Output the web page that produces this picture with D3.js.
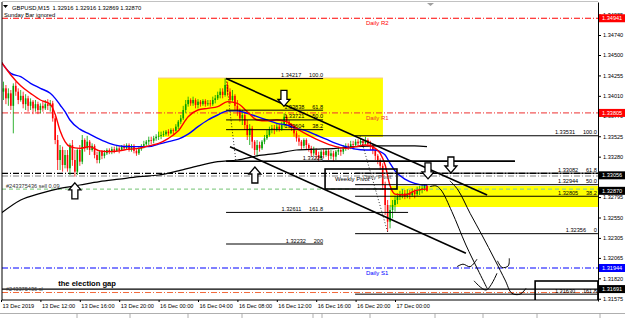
<!DOCTYPE html>
<html>
<head>
<meta charset="utf-8">
<script src="https://cdn.jsdelivr.net/npm/d3@7"></script>
<style>
body { margin: 0; background: #fff; }
svg { display: block; }
text { font-family: "Liberation Sans", Arial, sans-serif; }
</style>
</head>
<body>
<script>
// GBPUSD M15, one row per bar: [open, high, low, close]
const candles = [
[1.3422,1.3427,1.3401,1.3406],[1.3406,1.3418,1.3396,1.3410],[1.3410,1.3414,1.3391,1.3398],[1.3398,1.3410,1.3389,1.3404],[1.3404,1.3408,1.3384,1.3389],[1.3389,1.3416,1.3356,1.3413],
[1.3413,1.3418,1.3401,1.3406],[1.3406,1.3410,1.3391,1.3396],[1.3396,1.3408,1.3394,1.3401],[1.3401,1.3406,1.3386,1.3391],[1.3391,1.3403,1.3384,1.3398],[1.3398,1.3401,1.3382,1.3389],
[1.3389,1.3398,1.3384,1.3394],[1.3394,1.3396,1.3379,1.3386],[1.3386,1.3396,1.3382,1.3391],[1.3391,1.3394,1.3379,1.3384],[1.3384,1.3392,1.3380,1.3389],[1.3389,1.3395,1.3382,1.3386],
[1.3386,1.3396,1.3384,1.3391],[1.3391,1.3397,1.3384,1.3389],[1.3389,1.3396,1.3382,1.3392],[1.3392,1.3395,1.3370,1.3374],[1.3374,1.3377,1.3343,1.3348],[1.3348,1.3354,1.3312,1.3324],
[1.3324,1.3342,1.3312,1.3336],[1.3336,1.3340,1.3310,1.3318],[1.3318,1.3336,1.3314,1.3330],[1.3330,1.3336,1.3310,1.3314],[1.3314,1.3344,1.3306,1.3342],[1.3342,1.3348,1.3317,1.3324],
[1.3324,1.3336,1.3304,1.3310],[1.3310,1.3338,1.3306,1.3336],[1.3336,1.3342,1.3317,1.3322],[1.3322,1.3354,1.3319,1.3348],[1.3348,1.3350,1.3334,1.3338],[1.3338,1.3353,1.3336,1.3346],
[1.3346,1.3348,1.3330,1.3336],[1.3336,1.3344,1.3334,1.3341],[1.3341,1.3343,1.3326,1.3330],[1.3330,1.3334,1.3320,1.3324],[1.3324,1.3336,1.3320,1.3334],[1.3334,1.3336,1.3325,1.3329],
[1.3329,1.3336,1.3326,1.3332],[1.3332,1.3338,1.3330,1.3336],[1.3336,1.3338,1.3331,1.3334],[1.3334,1.3340,1.3331,1.3337],[1.3337,1.3340,1.3332,1.3335],[1.3335,1.3341,1.3334,1.3338],
[1.3338,1.3341,1.3332,1.3336],[1.3336,1.3342,1.3335,1.3340],[1.3340,1.3343,1.3336,1.3338],[1.3338,1.3344,1.3336,1.3342],[1.3342,1.3344,1.3334,1.3336],[1.3336,1.3343,1.3334,1.3341],
[1.3341,1.3343,1.3332,1.3335],[1.3335,1.3337,1.3329,1.3332],[1.3332,1.3340,1.3330,1.3337],[1.3337,1.3343,1.3335,1.3341],[1.3341,1.3347,1.3338,1.3343],[1.3343,1.3348,1.3341,1.3346],
[1.3346,1.3352,1.3342,1.3348],[1.3348,1.3352,1.3343,1.3347],[1.3347,1.3353,1.3344,1.3350],[1.3350,1.3355,1.3347,1.3352],[1.3352,1.3358,1.3348,1.3353],[1.3353,1.3358,1.3349,1.3354],
[1.3354,1.3359,1.3352,1.3355],[1.3355,1.3360,1.3353,1.3358],[1.3358,1.3361,1.3353,1.3356],[1.3356,1.3362,1.3355,1.3360],[1.3360,1.3362,1.3355,1.3359],[1.3359,1.3367,1.3358,1.3364],
[1.3364,1.3372,1.3361,1.3370],[1.3370,1.3378,1.3367,1.3374],[1.3374,1.3389,1.3372,1.3384],[1.3384,1.3396,1.3380,1.3391],[1.3391,1.3400,1.3388,1.3396],[1.3396,1.3398,1.3389,1.3392],
[1.3392,1.3400,1.3389,1.3396],[1.3396,1.3398,1.3386,1.3390],[1.3390,1.3397,1.3386,1.3394],[1.3394,1.3396,1.3388,1.3391],[1.3391,1.3397,1.3389,1.3395],[1.3395,1.3397,1.3388,1.3391],
[1.3391,1.3396,1.3389,1.3392],[1.3392,1.3396,1.3388,1.3391],[1.3391,1.3400,1.3389,1.3396],[1.3396,1.3402,1.3392,1.3398],[1.3398,1.3406,1.3396,1.3402],[1.3402,1.3410,1.3398,1.3406],
[1.3406,1.3410,1.3398,1.3402],[1.3402,1.3422,1.3400,1.3414],[1.3414,1.3418,1.3401,1.3406],[1.3406,1.3410,1.3391,1.3396],[1.3396,1.3408,1.3394,1.3401],[1.3401,1.3403,1.3384,1.3389],
[1.3389,1.3396,1.3377,1.3384],[1.3384,1.3386,1.3370,1.3374],[1.3374,1.3384,1.3366,1.3378],[1.3378,1.3382,1.3360,1.3366],[1.3366,1.3372,1.3348,1.3354],[1.3354,1.3367,1.3342,1.3362],
[1.3362,1.3365,1.3338,1.3346],[1.3346,1.3348,1.3330,1.3336],[1.3336,1.3348,1.3328,1.3342],[1.3342,1.3346,1.3334,1.3338],[1.3338,1.3348,1.3336,1.3346],[1.3346,1.3354,1.3343,1.3350],
[1.3350,1.3360,1.3348,1.3354],[1.3354,1.3364,1.3352,1.3360],[1.3360,1.3366,1.3356,1.3362],[1.3362,1.3366,1.3355,1.3360],[1.3360,1.3367,1.3358,1.3364],[1.3364,1.3367,1.3358,1.3361],
[1.3361,1.3370,1.3359,1.3366],[1.3366,1.3380,1.3364,1.3376],[1.3376,1.3378,1.3365,1.3370],[1.3370,1.3372,1.3362,1.3366],[1.3366,1.3368,1.3359,1.3362],[1.3362,1.3365,1.3352,1.3356],
[1.3356,1.3359,1.3346,1.3350],[1.3350,1.3354,1.3341,1.3346],[1.3346,1.3348,1.3336,1.3341],[1.3341,1.3350,1.3338,1.3348],[1.3348,1.3350,1.3337,1.3342],[1.3342,1.3344,1.3334,1.3338],
[1.3338,1.3341,1.3328,1.3332],[1.3332,1.3340,1.3329,1.3336],[1.3336,1.3338,1.3325,1.3330],[1.3330,1.3334,1.3322,1.3326],[1.3326,1.3336,1.3324,1.3334],[1.3334,1.3337,1.3326,1.3330],
[1.3330,1.3338,1.3328,1.3335],[1.3335,1.3337,1.3324,1.3329],[1.3329,1.3336,1.3325,1.3332],[1.3332,1.3335,1.3323,1.3328],[1.3328,1.3336,1.3324,1.3334],[1.3334,1.3340,1.3330,1.3336],
[1.3336,1.3338,1.3329,1.3334],[1.3334,1.3342,1.3331,1.3338],[1.3338,1.3344,1.3335,1.3341],[1.3341,1.3344,1.3336,1.3340],[1.3340,1.3347,1.3337,1.3343],[1.3343,1.3347,1.3337,1.3342],
[1.3342,1.3349,1.3340,1.3346],[1.3346,1.3349,1.3341,1.3344],[1.3344,1.3350,1.3342,1.3347],[1.3347,1.3349,1.3341,1.3344],[1.3344,1.3352,1.3342,1.3348],[1.3348,1.3350,1.3340,1.3343],
[1.3343,1.3347,1.3336,1.3341],[1.3341,1.3343,1.3331,1.3336],[1.3336,1.3338,1.3324,1.3329],[1.3329,1.3331,1.3319,1.3324],[1.3324,1.3326,1.3312,1.3317],[1.3317,1.3320,1.3288,1.3294],
[1.3294,1.3298,1.3258,1.3270],[1.3270,1.3276,1.3238,1.3250],[1.3250,1.3270,1.3242,1.3264],[1.3264,1.3276,1.3254,1.3270],[1.3270,1.3281,1.3262,1.3276],[1.3276,1.3284,1.3271,1.3280],
[1.3280,1.3287,1.3276,1.3282],[1.3282,1.3289,1.3278,1.3284],[1.3284,1.3288,1.3277,1.3281],[1.3281,1.3289,1.3278,1.3284],[1.3284,1.3288,1.3277,1.3282],[1.3282,1.3290,1.3280,1.3286],
[1.3286,1.3289,1.3278,1.3283],[1.3283,1.3292,1.3281,1.3287],[1.3287,1.3293,1.3282,1.3288],[1.3288,1.3294,1.3284,1.3290],[1.3290,1.3295,1.3287,1.3293],[1.3293,1.3294,1.3286,1.3287]
];

// moving averages (bar index -> price)
const maBars = [0,4,8,12,16,20,22,24,26,28,32,36,40,44,48,52,56,60,64,68,72,76,80,84,88,92,96,100,104,108,112,116,120,124,128,132,136,140,144,148,152,154,156,158,160,164,168,172,173];
const fastMA = [1.3442,1.3426,1.3413,1.3404,1.3396,1.3391,1.3379,1.3359,1.3346,1.3340,1.3338,1.3340,1.3335,1.3334,1.3335,1.3337,1.3338,1.3341,1.3344,1.3350,1.3359,1.3376,1.3384,1.3386,1.3388,1.3394,1.3392,1.3382,1.3372,1.3371,1.3372,1.3370,1.3362,1.3355,1.3349,1.3344,1.3340,1.3338,1.3340,1.3342,1.3338,1.3332,1.3318,1.3293,1.3283,1.3282,1.3287,1.3289,1.3289];
const slowMA = [1.3442,1.3428,1.3424,1.3416,1.3410,1.3404,1.3398,1.3390,1.3382,1.3372,1.3361,1.3355,1.3349,1.3344,1.3341,1.3340,1.3340,1.3340,1.3343,1.3346,1.3349,1.3355,1.3364,1.3372,1.3378,1.3383,1.3383,1.3380,1.3376,1.3372,1.3368,1.3366,1.3362,1.3359,1.3354,1.3349,1.3344,1.3340,1.3337,1.3336,1.3336,1.3334,1.3330,1.3320,1.3311,1.3301,1.3296,1.3294,1.3294];
const ma200Bars = [0,8,16,24,32,40,48,56,64,72,80,88,96,104,112,120,128,136,144,152,160,168,173];
const ma200 = [1.3260,1.3276,1.3284,1.3290,1.3294,1.3298,1.3301,1.3304,1.3306,1.3311,1.3317,1.3322,1.3324,1.3329,1.3332,1.3336,1.3337,1.3338,1.3340,1.3341,1.3341,1.3341,1.3340];

// axes
const timeTickBars = [0,16,32,48,64,80,96,112,128,144,160];
const timeTickLabels = ["13 Dec 2019","13 Dec 12:00","13 Dec 16:00","13 Dec 20:00","16 Dec 00:00","16 Dec 04:00","16 Dec 08:00","16 Dec 12:00","16 Dec 16:00","16 Dec 20:00","17 Dec 00:00"];
const priceTicks = [1.34985,1.34740,1.34500,1.34255,1.34010,1.33770,1.33525,1.33280,1.33035,1.32795,1.32550,1.32305,1.32065,1.31820,1.31575];
const badgePrices = [1.34941,1.33805,1.33056,1.32870,1.31944,1.31691];

// pivots and order lines
const pivotNames = ["Daily R2","Daily R1","Daily S1"];
const pivotPrices = [1.34941,1.33805,1.31944];
const weeklyPivot = 1.33080, dailyPivot = 1.33048;
const sellPrice = 1.32890, stopPrice = 1.31650;
const gapLine = 1.31691;

// zones [fromBar, toBar, top, bottom]
const zones = [[63.8,155.1,1.34224,1.33516],[158,242.4,1.32928,1.32676]];

// fibonacci 1 (16 Dec high to low)
const fib1Pct = ["100.0","61.8","50.0","38.2","","161.8","200"];
const fib1Price = [1.34217,1.33838,1.33721,1.33604,1.33225,1.32611,1.32232];
const fib1Start = 91.4, fib1LabelEnd = 130.8;
const fib1End = [130.8,130.8,130.8,130.8,208.7,165.3,130.8];
const fib1Anchor = [[91.4,1.34217],[95.4,1.33225]];
// fibonacci 2
const fib2Pct = ["100.0","61.8","50.0","38.2","0","161.8"];
const fib2Price = [1.33531,1.33082,1.32944,1.32805,1.32356,1.31630];
const fib2Start = 143.8, fib2End = 242.4;
const fib2Anchor = [[145.8,1.33531],[157.2,1.32356]];

// trend lines [[bar, price], [bar, price]]
const trendLines = [
  [[91.4,1.34217],[197.4,1.3282]],
  [[93,1.3340],[188.8,1.3212]],
  [[130.5,1.33225],[208.7,1.33225]]
];
// hand-drawn projections
const paths = [
  [[174.2,1.3292],[176.6,1.3293],[178.7,1.3288],[183.1,1.3262],[188.8,1.3222],[193.7,1.3192],[197.4,1.3170]],
  [[192.1,1.3179],[197,1.3168],[201.4,1.3188]],
  [[182.3,1.3299],[185.6,1.3288],[190.5,1.3260],[195.3,1.3234],[200.6,1.3204],[204.7,1.3180],[207.5,1.3164],[210.8,1.3163],[213.2,1.3170]],
  [[185.2,1.3196],[187.6,1.3199],[190.5,1.3196],[193.3,1.3205]],
  [[201.6,1.3203],[203.5,1.3195],[206,1.3197],[206.4,1.3206]]
];
const upArrows = [[30,1.3287],[103.1,1.3306]];
const downArrows = [[114.9,1.3398],[173.4,1.3311],[182.7,1.3318]];
const pivotBox = [131.6,160.8,1.33132,1.32892];
const gapBox = [216.9,242.4,1.31788,1.31548];

const W = 625, H = 318;
const svg = d3.select("body").append("svg").attr("width", W).attr("height", H);
const x = d3.scaleLinear().domain([0, 240]).range([1, 592]);
const y = d3.scaleLinear().domain([1.31548, 1.35136]).range([301, 2]);
const right = 598, bottom = 300;

svg.append("defs").append("clipPath").attr("id", "plot")
  .append("rect").attr("x", 2).attr("y", 2).attr("width", right - 2).attr("height", bottom - 2);
const g = svg.append("g").attr("clip-path", "url(#plot)");

// yellow zones
g.selectAll("rect.zone").data(zones).join("rect").attr("class", "zone")
  .attr("x", d => x(d[0])).attr("width", d => x(d[1]) - x(d[0]))
  .attr("y", d => y(d[2])).attr("height", d => y(d[3]) - y(d[2]))
  .attr("fill", "#ffff00");
g.append("line").attr("x1", x(zones[0][0])).attr("x2", x(zones[0][1]))
  .attr("y1", y(zones[0][2])).attr("y2", y(zones[0][2])).attr("stroke", "#f8c88a").attr("stroke-width", 1);

const dashDot = "6,2,1,2";
const pivotColor = { "Daily R2": "#ff0000", "Daily R1": "#ee3030", "Daily S1": "#0000ff" };
g.selectAll("line.pivot").data(pivotPrices).join("line").attr("class", "pivot")
  .attr("x1", 2).attr("x2", right).attr("y1", d => y(d)).attr("y2", d => y(d))
  .attr("stroke", (d, i) => pivotColor[pivotNames[i]]).attr("stroke-width", 1).attr("stroke-dasharray", dashDot);
g.append("line").attr("x1", 2).attr("x2", right).attr("y1", y(weeklyPivot)).attr("y2", y(weeklyPivot))
  .attr("stroke", "#000").attr("stroke-width", 1.2).attr("stroke-dasharray", dashDot);
g.append("line").attr("x1", 2).attr("x2", right).attr("y1", y(dailyPivot)).attr("y2", y(dailyPivot))
  .attr("stroke", "#808080").attr("stroke-width", 1).attr("stroke-dasharray", dashDot);
g.append("line").attr("x1", 2).attr("x2", right).attr("y1", y(sellPrice)).attr("y2", y(sellPrice))
  .attr("stroke", "#8fd08f").attr("stroke-width", 1.2).attr("stroke-dasharray", "4,3");
g.append("line").attr("x1", 2).attr("x2", right).attr("y1", y(stopPrice)).attr("y2", y(stopPrice))
  .attr("stroke", "#f26a3c").attr("stroke-width", 1).attr("stroke-dasharray", dashDot);

// candles
const col = d => d[3] >= d[0] ? "#00a000" : "#ff0000";
g.selectAll("line.wick").data(candles).join("line").attr("class", "wick")
  .attr("x1", (d, i) => x(i)).attr("x2", (d, i) => x(i))
  .attr("y1", d => y(d[1])).attr("y2", d => y(d[2]))
  .attr("stroke", col).attr("stroke-width", 0.8);
g.selectAll("rect.body").data(candles).join("rect").attr("class", "body")
  .attr("x", (d, i) => x(i) - 0.8).attr("width", 1.6)
  .attr("y", d => y(Math.max(d[0], d[3])))
  .attr("height", d => Math.max(0.8, Math.abs(y(d[0]) - y(d[3]))))
  .attr("fill", col);

// moving averages
const maLine = bars => d3.line().x((d, i) => x(bars[i])).y(d => y(d)).curve(d3.curveMonotoneX);
g.append("path").datum(ma200).attr("d", maLine(ma200Bars)).attr("fill", "none").attr("stroke", "#000").attr("stroke-width", 1.2);
g.append("path").datum(slowMA).attr("d", maLine(maBars)).attr("fill", "none").attr("stroke", "#0000ff").attr("stroke-width", 1.4);
g.append("path").datum(fastMA).attr("d", maLine(maBars)).attr("fill", "none").attr("stroke", "#ff0000").attr("stroke-width", 1.4);

// fibonacci levels
const fs = 5.6;
function fibLabel(px, py, price, pct) {
  g.append("text").attr("x", px).attr("y", py - 1.5).attr("text-anchor", "end")
    .attr("font-size", fs).attr("fill", "#000")
    .text(price.toFixed(5) + (pct ? "\u00a0\u00a0\u00a0\u00a0\u00a0" + pct : ""));
}
fib1Price.forEach((p, i) => {
  g.append("line").attr("x1", x(fib1Start)).attr("x2", x(fib1End[i])).attr("y1", y(p)).attr("y2", y(p))
    .attr("stroke", "#000").attr("stroke-width", i === 4 ? 1.6 : 1);
  fibLabel(x(fib1LabelEnd), y(p), p, fib1Pct[i]);
});
fib2Price.forEach((p, i) => {
  g.append("line").attr("x1", x(fib2Start)).attr("x2", x(fib2End)).attr("y1", y(p)).attr("y2", y(p))
    .attr("stroke", "#000").attr("stroke-width", 1);
  fibLabel(x(fib2End) - 1, y(p), p, fib2Pct[i]);
});
[fib1Anchor, fib2Anchor].forEach(a => {
  g.append("line").attr("x1", x(a[0][0])).attr("y1", y(a[0][1])).attr("x2", x(a[1][0])).attr("y2", y(a[1][1]))
    .attr("stroke", "#000").attr("stroke-width", 0.8).attr("stroke-dasharray", "1,2");
});

// trend lines and projections
g.selectAll("line.trend").data(trendLines).join("line").attr("class", "trend")
  .attr("x1", d => x(d[0][0])).attr("y1", d => y(d[0][1]))
  .attr("x2", d => x(d[1][0])).attr("y2", d => y(d[1][1]))
  .attr("stroke", "#000").attr("stroke-width", 1.6);
const pathLine = d3.line().x(d => x(d[0])).y(d => y(d[1])).curve(d3.curveCatmullRom);
g.selectAll("path.proj").data(paths).join("path").attr("class", "proj")
  .attr("d", pathLine).attr("fill", "none").attr("stroke", "#000").attr("stroke-width", 1);

// boxes
[pivotBox, gapBox].forEach(b => {
  g.append("rect").attr("x", x(b[0])).attr("width", x(b[1]) - x(b[0]))
    .attr("y", y(b[2])).attr("height", y(b[3]) - y(b[2]))
    .attr("fill", "none").attr("stroke", "#000").attr("stroke-width", 1.6);
});
g.append("line").attr("x1", 2).attr("x2", right).attr("y1", y(gapLine)).attr("y2", y(gapLine))
  .attr("stroke", "#000").attr("stroke-width", 1.3);

// arrows
function arrow(d, up) {
  const s = up ? 1 : -1;
  const pts = [[0, -8], [6, -1], [3, -1], [3, 8], [-3, 8], [-3, -1], [-6, -1]]
    .map(p => [x(d[0]) + p[0], y(d[1]) + s * p[1]]);
  g.append("path").attr("d", "M" + pts.join("L") + "Z")
    .attr("fill", "#fff").attr("stroke", "#000").attr("stroke-width", 1.3);
}
upArrows.forEach(d => arrow(d, true));
downArrows.forEach(d => arrow(d, false));

// labels inside the chart
pivotNames.forEach((n, i) => {
  g.append("text").attr("x", x(148.2)).attr("y", y(pivotPrices[i]) + 7)
    .attr("font-size", 6).attr("fill", pivotColor[n]).text(n);
});
g.append("text").attr("x", x(135.6)).attr("y", y(weeklyPivot) + 8).attr("font-size", 6).attr("fill", "#000").text("Weekly Pivot");
g.append("text").attr("x", x(147)).attr("y", y(dailyPivot) + 3).attr("font-size", 6).attr("fill", "#555").text("Daily Pivot");
g.append("text").attr("x", 6).attr("y", y(sellPrice) - 1.5).attr("font-size", fs).attr("fill", "#333").text("#243375436 sell 0.09");
g.append("text").attr("x", 6).attr("y", y(stopPrice) - 1.5).attr("font-size", fs).attr("fill", "#333").text("#243375436 sl");
g.append("text").attr("x", x(23.2)).attr("y", y(gapLine) - 3).attr("font-size", 7.6).attr("font-weight", "bold").attr("fill", "#000").text("the election gap");

// header
svg.append("path").attr("d", "M3,5L8,5L5.5,8Z").attr("fill", "#000");
svg.append("text").attr("x", 12).attr("y", 9.5).attr("font-size", 5.8).attr("fill", "#000")
  .text("GBPUSD,M15\u00a0\u00a01.32916 1.32916 1.32869 1.32870");
svg.append("text").attr("x", 4).attr("y", 17).attr("font-size", 5.8).attr("fill", "#000").text("Sunday Bar ignored");
svg.append("path").attr("d", "M427,3L434,3L430.5,6Z").attr("fill", "#a0a0a0");

// frame
svg.append("line").attr("x1", 2).attr("x2", 2).attr("y1", 2).attr("y2", bottom).attr("stroke", "#000");
svg.append("line").attr("x1", 2).attr("x2", right).attr("y1", bottom).attr("y2", bottom).attr("stroke", "#000");
svg.append("line").attr("x1", 2).attr("x2", right).attr("y1", 1.5).attr("y2", 1.5).attr("stroke", "#999").attr("stroke-width", 0.6);

// price axis; a tick label sitting right under a highlighted price is hidden, as in the terminal
const yAxis = d3.axisRight(y).tickValues(priceTicks).tickFormat(d3.format(".5f")).tickSize(3).tickSizeOuter(0);
const ya = svg.append("g").attr("transform", `translate(${right},0)`).call(yAxis);
ya.attr("font-size", fs).attr("font-family", null);
ya.select(".domain").attr("stroke", "#000");
ya.selectAll("text").attr("x", 5).attr("fill", "#000")
  .attr("display", d => badgePrices.some(b => Math.abs(y(b) - y(d)) < 2.5) ? "none" : null);

const badgeColor = ["#ff0000", "#ff0000", "#000", "#000", "#0000ff", "#000"];
badgePrices.forEach((p, i) => {
  svg.append("rect").attr("x", right + 1).attr("y", y(p) - 4).attr("width", W - right - 1).attr("height", 8).attr("fill", badgeColor[i]);
  svg.append("text").attr("x", right + 4).attr("y", y(p) + 2).attr("font-size", fs).attr("fill", "#fff").text(p.toFixed(5));
});

// time axis
const xAxis = d3.axisBottom(x).tickValues(timeTickBars).tickFormat((d, i) => timeTickLabels[i]).tickSize(2).tickSizeOuter(0);
const xa = svg.append("g").attr("transform", `translate(0,${bottom})`).call(xAxis);
xa.attr("font-size", fs).attr("font-family", null);
xa.select(".domain").remove();
xa.selectAll("text").attr("text-anchor", "start").attr("x", 1).attr("y", 4).attr("fill", "#000");

// terminal tabs below the chart
svg.append("line").attr("x1", 0).attr("x2", W).attr("y1", 313.5).attr("y2", 313.5).attr("stroke", "#9a9a9a").attr("stroke-width", 0.8);
[77, 130, 188, 242, 313, 322, 370, 435, 483, 537, 600].forEach(t => {
  svg.append("line").attr("x1", t).attr("x2", t).attr("y1", 313.5).attr("y2", 318).attr("stroke", "#9a9a9a").attr("stroke-width", 0.8);
});
</script>
</body>
</html>
